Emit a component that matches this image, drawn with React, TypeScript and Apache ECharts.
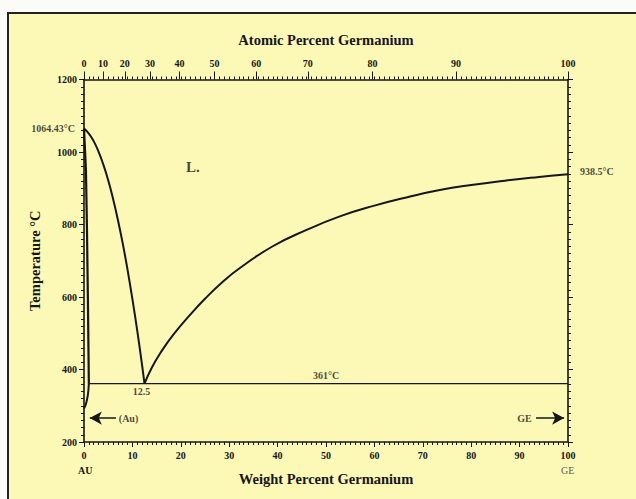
import React, { useEffect, useRef } from "react";
import * as echarts from "echarts";

// ---- data ----
const atomicTicks: number[] = [0, 10, 20, 30, 40, 50, 60, 70, 80, 90, 100];
const AU_MASS = 196.97;
const GE_MASS = 72.63;
// convert atomic % Ge to weight % Ge (positions of top-axis ticks)
const atomicToWeight = (a: number) =>
  (100 * a * GE_MASS) / (a * GE_MASS + (100 - a) * AU_MASS);
const atomicWeights: number[] = atomicTicks.map(atomicToWeight);

const leftLiquidus: [number, number][] = [
  [0, 1064.43], [1, 1051], [2, 1030], [3, 1001], [4, 965], [5, 922], [6, 871],
  [7, 813], [8, 748], [9, 675], [10, 594], [11, 507], [12, 412], [12.5, 361],
];
const rightLiquidus: [number, number][] = [
  [12.5, 361], [14, 405], [16, 450], [18.5, 497], [22, 552], [25, 595],
  [28.5, 640], [32, 678], [39, 740], [46, 785], [53, 823], [60, 852],
  [67, 876], [73.5, 895], [80, 909], [87, 921], [94, 931], [100, 938.5],
];
const auSolidus: [number, number][] = [
  [0, 1064.43], [0.4, 950], [0.6, 800], [0.8, 600], [1.0, 361],
];
const auSolvus: [number, number][] = [
  [1.0, 361], [0.8, 330], [0.4, 305], [0, 292],
];
const eutectic: [number, number][] = [[1.0, 361], [100, 361]];

const annotations = [
  { value: [0, 1064.43], text: "1064.43°C", position: "left" },
  { value: [100, 938.5], text: "938.5°C", position: "right" },
  { value: [12.5, 361], text: "12.5", position: "bottom" },
  { value: [50, 361], text: "361°C", position: "top" },
  { value: [22.5, 959], text: "L.", position: "inside" },
  { value: [9.2, 266], text: "(Au)", position: "inside" },
  { value: [91, 266], text: "GE", position: "inside" },
];
const arrows: [number, number, number, number][] = [
  [6.6, 266, 1.2, 266],
  [93.4, 266, 99.2, 266],
];

const FONT = "'Liberation Serif', 'DejaVu Serif', serif";
const INK = "#161616";

export default function App() {
  const ref = useRef<HTMLDivElement>(null);
  useEffect(() => {
    if (!ref.current) return;
    const chart = echarts.init(ref.current, undefined, { renderer: "svg" });
    const lineSeries = (data: [number, number][], width: number, smooth: number | boolean) => ({
      type: "line",
      xAxisIndex: 0,
      yAxisIndex: 0,
      data,
      showSymbol: false,
      symbol: "none",
      smooth,
      silent: true,
      lineStyle: { color: INK, width },
    });
    const axisLine = { show: true, onZero: false, lineStyle: { color: INK, width: 1.6 } };
    const tickStyle = { color: INK, width: 1 };
    const labelStyle = { color: INK, fontFamily: FONT, fontSize: 10, fontWeight: "bold" };
    const nameStyle = { color: INK, fontFamily: FONT, fontSize: 14.5, fontWeight: "bold" };
    chart.setOption({
      animation: false,
      grid: [
        { left: 84, right: 68, top: 79.5, bottom: 57 },
        { left: 84, right: 68, top: 79.5, bottom: 57 },
      ],
      xAxis: [
        {
          gridIndex: 0, type: "value", position: "bottom", min: 0, max: 100, interval: 10,
          axisLine, axisTick: { show: true, length: 5, lineStyle: tickStyle },
          minorTick: { show: true, splitNumber: 10, length: 3, lineStyle: tickStyle },
          splitLine: { show: false }, minorSplitLine: { show: false },
          axisLabel: { ...labelStyle, margin: 8, formatter: (v: number) => String(v) },
          name: "Weight Percent Germanium", nameLocation: "middle", nameGap: 29,
          nameTextStyle: nameStyle,
        },
        {
          gridIndex: 0, type: "value", position: "top", min: 0, max: 100, interval: 1,
          axisLine, axisTick: { show: true, length: 3, lineStyle: tickStyle },
          axisLabel: { show: false }, splitLine: { show: false },
        },
        {
          gridIndex: 1, type: "value", position: "top", min: 0, max: 100,
          axisLine: { show: false },
          axisTick: { show: true, length: 8, lineStyle: tickStyle, customValues: atomicWeights },
          axisLabel: {
            ...labelStyle, margin: 11, customValues: atomicWeights,
            formatter: (v: number) => {
              const i = atomicWeights.findIndex((w) => Math.abs(w - v) < 1e-6);
              return i >= 0 ? String(atomicTicks[i]) : "";
            },
          },
          splitLine: { show: false },
          name: "Atomic Percent Germanium", nameLocation: "middle", nameGap: 32,
          nameTextStyle: nameStyle,
        },
      ],
      yAxis: [
        {
          gridIndex: 0, type: "value", position: "left", min: 200, max: 1200, interval: 200,
          axisLine, axisTick: { show: true, length: 5, lineStyle: tickStyle },
          minorTick: { show: true, splitNumber: 10, length: 3, lineStyle: tickStyle },
          splitLine: { show: false }, minorSplitLine: { show: false },
          axisLabel: { ...labelStyle, margin: 7, formatter: (v: number) => String(v) },
          name: "Temperature °C", nameLocation: "middle", nameGap: 42, nameRotate: 90,
          nameTextStyle: nameStyle,
        },
        {
          gridIndex: 0, type: "value", position: "right", min: 200, max: 1200, interval: 200,
          axisLine, axisTick: { show: true, length: 5, lineStyle: tickStyle },
          minorTick: { show: true, splitNumber: 10, length: 3, lineStyle: tickStyle },
          splitLine: { show: false }, minorSplitLine: { show: false },
          axisLabel: { show: false },
        },
        { gridIndex: 1, type: "value", min: 200, max: 1200, show: false },
      ],
      series: [
        lineSeries(leftLiquidus, 2, 0.5),
        lineSeries(rightLiquidus, 2, 0.5),
        lineSeries(auSolidus, 2.2, false),
        lineSeries(auSolvus, 2, 0.4),
        lineSeries(eutectic, 1.4, false),
        {
          type: "scatter", xAxisIndex: 0, yAxisIndex: 0, symbolSize: 0, silent: true, clip: false,
          data: annotations.map((a) => ({
            value: a.value,
            label: {
              show: true,
              formatter: a.text,
              position: a.position,
              distance: a.position === "right" ? 12 : a.position === "left" ? 9 : 3,
              color: INK,
              fontFamily: FONT,
              fontSize: a.text === "L." ? 15 : 10,
              fontWeight: "bold",
              offset: a.position === "right" ? [0, -3] : a.position === "bottom" ? [-3, 0] : [0, 0],
            },
          })),
          markLine: {
            silent: true,
            symbol: ["none", "arrow"],
            symbolSize: [10, 12],
            label: { show: false },
            lineStyle: { color: INK, width: 1.5, type: "solid" },
            data: arrows.map((a) => [{ coord: [a[0], a[1]] }, { coord: [a[2], a[3]] }]),
          },
        },
      ],
      graphic: [
        { type: "text", left: 78, top: 465, style: { text: "AU", fill: INK, font: `bold 10px ${FONT}` } },
        { type: "text", left: 561, top: 465, style: { text: "GE", fill: "#5b5b45", font: `10px ${FONT}` } },
      ],
    });
    return () => chart.dispose();
  }, []);
  return (
    <div style={{ position: "fixed", left: 0, top: 0, width: 636, height: 499, background: "#fbfbf8" }}>
      <div
        style={{
          position: "absolute", left: 7, top: 12, right: 0, bottom: 0,
          background: "#fcf9b6", borderLeft: "2px solid #222", borderTop: "2px solid #222",
        }}
      />
      <div ref={ref} style={{ position: "absolute", left: 0, top: 0, width: 636, height: 499 }} />
    </div>
  );
}
